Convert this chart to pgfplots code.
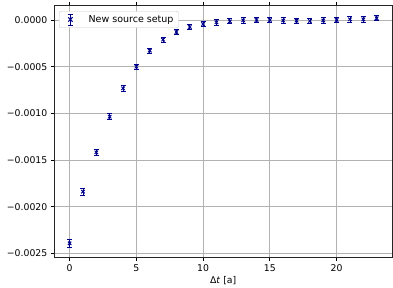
\documentclass[border=0pt]{standalone}
\usepackage{pgfplots}
\pgfplotsset{compat=1.18}
\usepackage{pgfplotstable}
\usepackage{fontspec}
\setmainfont{DejaVu Sans}
\definecolor{mplblue}{RGB}{0,0,139}
\pgfplotstableread{
x y e
0 -0.002392 0.000045
1 -0.001839 0.000040
2 -0.001418 0.000034
3 -0.001036 0.000030
4 -0.000732 0.000030
5 -0.000500 0.000028
6 -0.000329 0.000028
7 -0.000211 0.000028
8 -0.000129 0.000028
9 -0.000075 0.000028
10 -0.000043 0.000028
11 -0.000025 0.000028
12 -0.000014 0.000028
13 -0.000004 0.000028
14 0.000000 0.000028
15 0.000000 0.000028
16 -0.000005 0.000028
17 -0.000007 0.000028
18 -0.000010 0.000028
19 -0.000005 0.000028
20 0.000000 0.000028
21 0.000007 0.000028
22 0.000007 0.000028
23 0.000018 0.000028
}\datatable
\begin{document}
\begin{tikzpicture}
\begin{axis}[
  scale only axis, width=337.7pt, height=252pt,
  at={(0,0)}, anchor=south west,
  xmin=-1.15, xmax=24.15, ymin=-0.002542, ymax=0.000157,
  xtick={0,5,10,15,20}, xticklabels={0,5,10,15,20},
  ytick={-0.0025,-0.002,-0.0015,-0.001,-0.0005,0},
  yticklabels={−0.0025,−0.0020,−0.0015,−0.0010,−0.0005,0.0000},
  scaled y ticks=false,
  tick align=outside, major tick length=3.5pt,
  tick style={black, line width=0.8pt},
  grid=major, grid style={color=black!30, line width=0.8pt},
  axis line style={line width=0.8pt, black!85},
  ticklabel style={font=\fontsize{9.3}{11}\selectfont},
  xlabel={Δ\textit{t} [a]},
  xlabel style={font=\fontsize{9.3}{11}\selectfont, yshift=2pt},
  legend style={at={(0.014,0.977)}, anchor=north west, draw=black!20, rounded corners=2pt,
    font=\fontsize{9.5}{11}\selectfont, inner xsep=3pt, inner ysep=2pt},
  legend cell align=left,
  legend image code/.code={
    \path (0pt,0pt) (24pt,0pt);
    \draw[mplblue, line width=0.8pt] (8pt,-5.5pt) -- (8pt,5.5pt);
    \draw[mplblue, line width=0.8pt] (5.5pt,-5.5pt) -- (10.5pt,-5.5pt);
    \draw[mplblue, line width=0.8pt] (5.5pt,5.5pt) -- (10.5pt,5.5pt);
    \draw[mplblue, line width=1pt] (5.8pt,-2.2pt) -- (10.2pt,2.2pt) (5.8pt,2.2pt) -- (10.2pt,-2.2pt);
  },
]
\addplot[only marks, mark=x, mark size=2.4pt, color=mplblue, mark options={line width=1pt},
  error bars/.cd, y dir=both, y explicit,
  error bar style={line width=0.8pt, mplblue},
  error mark options={rotate=90, mark size=2.5pt, line width=0.8pt, mplblue}]
  table[x=x, y=y, y error=e] {\datatable};
\addlegendentry{New source setup}
\end{axis}
\pgfresetboundingbox
\path (-54.3pt,-29.7pt) rectangle (338.7pt,257.3pt);
\end{tikzpicture}
\end{document}
